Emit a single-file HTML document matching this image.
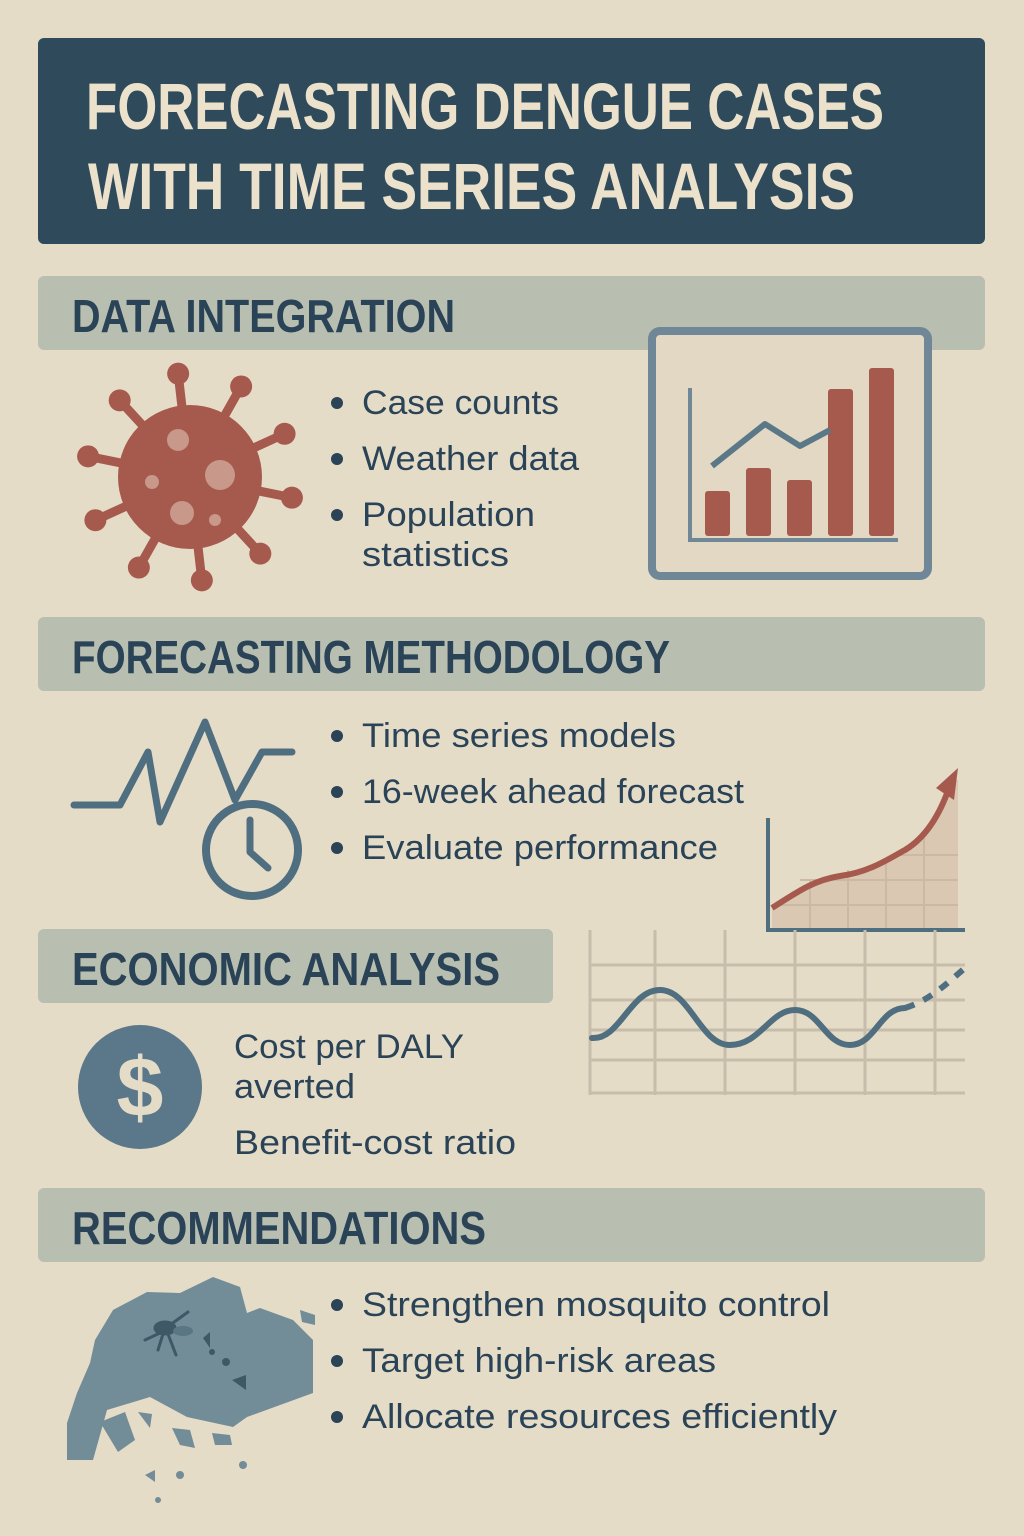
<!DOCTYPE html>
<html><head><meta charset="utf-8"><style>
html,body{margin:0;padding:0;background:#e5dcc8;}
svg{display:block;font-family:"Liberation Sans",sans-serif;}
</style></head><body>
<svg width="1024" height="1536" viewBox="0 0 1024 1536">
<rect width="1024" height="1536" fill="#e5dcc8"/>
<g>
<rect x="38" y="38" width="947" height="206" rx="6" fill="#2e4a5b"/>
<text x="86" y="129" font-size="66" font-weight="bold" fill="#ece2cb" textLength="798" lengthAdjust="spacingAndGlyphs">FORECASTING DENGUE CASES</text>
<text x="88" y="209" font-size="66" font-weight="bold" fill="#ece2cb" textLength="767" lengthAdjust="spacingAndGlyphs">WITH TIME SERIES ANALYSIS</text>
</g>

<g>
<rect x="38" y="276" width="947" height="74" rx="6" fill="#b8bfb1"/>
<text x="72" y="332" font-size="46" font-weight="bold" fill="#2a4357" textLength="383" lengthAdjust="spacingAndGlyphs">DATA INTEGRATION</text>
</g>

<g fill="#a65a4e" stroke="#a65a4e">
<g id="spikes" stroke-width="9" stroke-linecap="round"></g>
<circle cx="190" cy="477" r="72" stroke="none"/>
<circle cx="178" cy="440" r="11" fill="#c8988a" stroke="none"/>
<circle cx="220" cy="475" r="15" fill="#c8988a" stroke="none"/>
<circle cx="182" cy="513" r="12" fill="#c8988a" stroke="none"/>
<circle cx="152" cy="482" r="7" fill="#c8988a" stroke="none"/>
<circle cx="215" cy="520" r="6" fill="#c8988a" stroke="none"/>
</g>

<g font-size="34" fill="#2a4357">
<circle cx="337" cy="403" r="6"/><text x="362" y="414" textLength="197" lengthAdjust="spacingAndGlyphs">Case counts</text>
<circle cx="337" cy="459" r="6"/><text x="362" y="470" textLength="217" lengthAdjust="spacingAndGlyphs">Weather data</text>
<circle cx="337" cy="515" r="6"/><text x="362" y="526" textLength="173" lengthAdjust="spacingAndGlyphs">Population</text>
<text x="362" y="566" textLength="147" lengthAdjust="spacingAndGlyphs">statistics</text>
</g>

<g>
<rect x="652" y="331" width="276" height="245" rx="8" fill="#e2d8c4" stroke="#6f8797" stroke-width="8"/>
<polyline points="690,388 690,540 898,540" fill="none" stroke="#6f8797" stroke-width="4"/>
<g id="bars"></g>
<polyline id="trend" fill="none" stroke="#5b7888" stroke-width="6" stroke-linejoin="round"/>
</g>

<g>
<rect x="38" y="617" width="947" height="74" rx="6" fill="#b8bfb1"/>
<text x="72" y="673" font-size="46" font-weight="bold" fill="#2a4357" textLength="598" lengthAdjust="spacingAndGlyphs">FORECASTING METHODOLOGY</text>
</g>

<g fill="none" stroke="#4f6e80" stroke-width="7" stroke-linejoin="round" stroke-linecap="round">
<polyline points="74,805 120,805 148,752 160,822 205,722 235,800 262,752 292,752"/>
<circle cx="252" cy="850" r="46" stroke-width="8" fill="#e5dcc8"/>
<polyline points="250,820 250,852 268,868"/>
</g>

<g font-size="34" fill="#2a4357">
<circle cx="337" cy="736" r="6"/><text x="362" y="747" textLength="314" lengthAdjust="spacingAndGlyphs">Time series models</text>
<circle cx="337" cy="792" r="6"/><text x="362" y="803" textLength="382" lengthAdjust="spacingAndGlyphs">16-week ahead forecast</text>
<circle cx="337" cy="848" r="6"/><text x="362" y="859" textLength="356" lengthAdjust="spacingAndGlyphs">Evaluate performance</text>
</g>

<g>
<path d="M772,908 C800,890 815,880 840,876 C870,872 890,858 905,850 C925,838 940,815 952,780 L958,780 L958,930 L772,930 Z" fill="#dac8b3"/>
<g stroke="#cbb9a6" stroke-width="2">
<line x1="810" y1="880" x2="810" y2="930"/><line x1="848" y1="870" x2="848" y2="930"/><line x1="886" y1="860" x2="886" y2="930"/><line x1="924" y1="830" x2="924" y2="930"/>
<line x1="772" y1="905" x2="958" y2="905"/><line x1="800" y1="880" x2="958" y2="880"/><line x1="900" y1="855" x2="958" y2="855"/>
</g>
<polyline points="768,818 768,930 965,930" fill="none" stroke="#4f6e80" stroke-width="4"/>
<path d="M772,908 C800,890 815,880 840,876 C870,872 890,858 905,850 C925,838 940,815 950,785" fill="none" stroke="#a65a4e" stroke-width="6"/>
<polygon points="958,768 954,800 936,788" fill="#a65a4e"/>
</g>

<g>
<rect x="38" y="929" width="515" height="74" rx="6" fill="#b8bfb1"/>
<text x="72" y="985" font-size="46" font-weight="bold" fill="#2a4357" textLength="428" lengthAdjust="spacingAndGlyphs">ECONOMIC ANALYSIS</text>
</g>

<g>
<g stroke="#c8bdab" stroke-width="3">
<line x1="590" y1="930" x2="590" y2="1095"/><line x1="655" y1="930" x2="655" y2="1095"/><line x1="725" y1="930" x2="725" y2="1095"/><line x1="795" y1="930" x2="795" y2="1095"/><line x1="865" y1="930" x2="865" y2="1095"/><line x1="935" y1="930" x2="935" y2="1095"/>
<line x1="590" y1="965" x2="965" y2="965"/><line x1="590" y1="1000" x2="965" y2="1000"/><line x1="590" y1="1030" x2="965" y2="1030"/><line x1="590" y1="1060" x2="965" y2="1060"/><line x1="590" y1="1093" x2="965" y2="1093"/>
</g>
<path d="M592,1038 C620,1040 630,990 660,990 C690,990 700,1045 730,1045 C760,1045 770,1010 795,1010 C820,1010 825,1045 850,1045 C875,1045 880,1008 905,1008" fill="none" stroke="#4f6e80" stroke-width="6" stroke-linecap="round"/>
<path d="M905,1008 C930,1000 945,985 965,968" fill="none" stroke="#4f6e80" stroke-width="6" stroke-dasharray="10,10"/>
</g>

<g>
<circle cx="140" cy="1087" r="62" fill="#5a7889"/>
<text x="140" y="1116" font-size="84" font-weight="bold" fill="#e5dcc8" text-anchor="middle">$</text>
</g>
<g font-size="34" fill="#2a4357">
<text x="234" y="1058" textLength="230" lengthAdjust="spacingAndGlyphs">Cost per DALY</text>
<text x="234" y="1098" textLength="121" lengthAdjust="spacingAndGlyphs">averted</text>
<text x="234" y="1154" textLength="282" lengthAdjust="spacingAndGlyphs">Benefit-cost ratio</text>
</g>

<g>
<rect x="38" y="1188" width="947" height="74" rx="6" fill="#b8bfb1"/>
<text x="72" y="1244" font-size="46" font-weight="bold" fill="#2a4357" textLength="414" lengthAdjust="spacingAndGlyphs">RECOMMENDATIONS</text>
</g>

<g fill="#728c98">
<polygon points="67,1423 77,1393 90,1363 95,1340 113,1310 147,1292 180,1293 213,1277 240,1287 247,1313 260,1308 293,1320 313,1340 313,1393 247,1417 233,1427 187,1417 150,1397 107,1410 93,1460 67,1460"/>
<polygon points="100,1422 125,1412 135,1440 118,1452"/>
<polygon points="138,1412 152,1414 150,1428"/>
<polygon points="172,1428 190,1430 195,1448 180,1445"/>
<polygon points="212,1433 230,1435 232,1445 215,1445"/>
<polygon points="300,1310 315,1315 315,1325 302,1322"/>
<polygon points="145,1475 155,1470 155,1482"/>
<circle cx="180" cy="1475" r="4"/><circle cx="158" cy="1500" r="3"/><circle cx="243" cy="1465" r="4"/>
<g fill="#3f5866" stroke="#3f5866" stroke-width="3" stroke-linecap="round">
<ellipse cx="165" cy="1328" rx="10" ry="6"/>
<ellipse cx="183" cy="1331" rx="10" ry="5" fill="#5b7683" stroke="none"/>
<line x1="170" y1="1325" x2="188" y2="1312"/><line x1="160" y1="1333" x2="145" y2="1340"/><line x1="163" y1="1334" x2="158" y2="1350"/><line x1="168" y1="1334" x2="176" y2="1355"/>
<polygon points="203,1338 210,1348 210,1332" stroke="none"/>
<polygon points="232,1380 246,1390 246,1375" stroke="none"/>
<circle cx="226" cy="1362" r="4" stroke="none"/><circle cx="212" cy="1352" r="3" stroke="none"/>
</g>
</g>
<g font-size="34" fill="#2a4357">
<circle cx="337" cy="1305" r="6"/><text x="362" y="1316" textLength="468" lengthAdjust="spacingAndGlyphs">Strengthen mosquito control</text>
<circle cx="337" cy="1361" r="6"/><text x="362" y="1372" textLength="354" lengthAdjust="spacingAndGlyphs">Target high-risk areas</text>
<circle cx="337" cy="1417" r="6"/><text x="362" y="1428" textLength="475" lengthAdjust="spacingAndGlyphs">Allocate resources efficiently</text>
</g>
</svg>
<script>
const barCategories=['1','2','3','4','5'];
const barValues=[45,68,56,147,168];
const trendValues=[70,112,90,106];
const NS='http://www.w3.org/2000/svg';
const y0=536, scale=1.0;
function xBar(i){return 705+i*41;}
function yv(v){return y0-v*scale;}
const bars=document.getElementById('bars');
barValues.forEach((v,i)=>{
 const r=document.createElementNS(NS,'rect');
 r.setAttribute('x',xBar(i));r.setAttribute('y',yv(v));r.setAttribute('width',25);r.setAttribute('height',v*scale);
 r.setAttribute('rx',3);r.setAttribute('fill','#a65a4e');
 
 
 bars.appendChild(r);
});
const tx=[712,765,800,830];
document.getElementById('trend').setAttribute('points',trendValues.map((v,i)=>tx[i]+','+yv(v)).join(' '));
const sp=document.getElementById('spikes');
for(let k=0;k<10;k++){
 const a=k*Math.PI*2/10+0.2;
 const l=document.createElementNS(NS,'line');
 l.setAttribute('x1',190);l.setAttribute('y1',477);
 l.setAttribute('x2',190+100*Math.cos(a));l.setAttribute('y2',477+100*Math.sin(a));
 
 
 sp.appendChild(l);
 const c=document.createElementNS(NS,'circle');
 c.setAttribute('cx',190+104*Math.cos(a));c.setAttribute('cy',477+104*Math.sin(a));c.setAttribute('r',11);c.setAttribute('stroke','none');
 
 
 sp.appendChild(c);
}
</script>
</body></html>
